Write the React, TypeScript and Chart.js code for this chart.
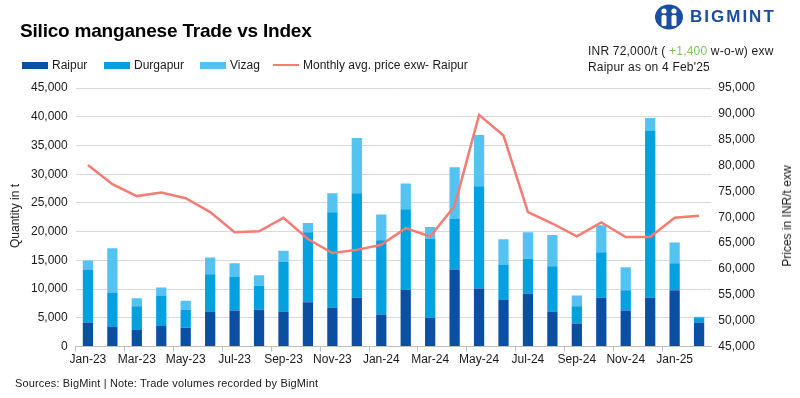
import React, { useEffect, useRef } from "react";
import { Chart, registerables } from "chart.js";

Chart.register(...registerables);

const months = [
  "Jan-23", "Feb-23", "Mar-23", "Apr-23", "May-23", "Jun-23", "Jul-23", "Aug-23", "Sep-23", "Oct-23", "Nov-23", "Dec-23",
  "Jan-24", "Feb-24", "Mar-24", "Apr-24", "May-24", "Jun-24", "Jul-24", "Aug-24", "Sep-24", "Oct-24", "Nov-24", "Dec-24",
  "Jan-25", "Feb-25",
];

const raipur = [4200, 3500, 2900, 3600, 3300, 6100, 6300, 6400, 6100, 7700, 6800, 8500, 5600, 9900, 5000, 13400, 10100, 8200, 9200, 6100, 4000, 8500, 6300, 8500, 9800, 4200];
const durgapur = [9200, 5900, 4100, 5300, 3100, 6500, 5900, 4200, 8600, 12200, 16600, 18200, 12900, 14000, 13800, 8900, 17800, 6100, 6100, 7900, 3000, 7900, 3500, 29000, 4700, 850];
const vizag = [1600, 7700, 1400, 1400, 1600, 2900, 2300, 1800, 2000, 1600, 3300, 9600, 4500, 4500, 2000, 8900, 8900, 4400, 4600, 5400, 1900, 4700, 4000, 2300, 3600, 150];
const priceRaipur = [80100, 76400, 74100, 74800, 73700, 71000, 67100, 67300, 69900, 65800, 63100, 63700, 64700, 67900, 66300, 72200, 89800, 85800, 71000, 68800, 66300, 69000, 66200, 66200, 69900, 70300];

const C_RAIPUR = "#0b4fa2";
const C_DURG = "#03a1e0";
const C_VIZAG = "#55c3f1";
const C_LINE = "#f47c72";
const FONT = "'Liberation Sans', Arial, sans-serif";

const fmt = (v: number) => v.toLocaleString("en-US");

export default function App() {
  const ref = useRef<HTMLCanvasElement | null>(null);

  useEffect(() => {
    if (!ref.current) return;
    const chart = new Chart(ref.current, {
      type: "bar",
      data: {
        labels: months,
        datasets: [
          { type: "line", label: "Monthly avg. price exw- Raipur", data: priceRaipur, yAxisID: "y1", borderColor: C_LINE, backgroundColor: C_LINE, borderWidth: 2.5, pointRadius: 0, tension: 0, order: 0 },
          { type: "bar", label: "Raipur", data: raipur, backgroundColor: C_RAIPUR, yAxisID: "y", stack: "s", order: 1, barPercentage: 0.42, categoryPercentage: 1 },
          { type: "bar", label: "Durgapur", data: durgapur, backgroundColor: C_DURG, yAxisID: "y", stack: "s", order: 1, barPercentage: 0.42, categoryPercentage: 1 },
          { type: "bar", label: "Vizag", data: vizag, backgroundColor: C_VIZAG, yAxisID: "y", stack: "s", order: 1, barPercentage: 0.42, categoryPercentage: 1 },
        ],
      } as any,
      options: {
        responsive: false,
        animation: false,
        devicePixelRatio: 1,
        layout: { padding: { top: 88, bottom: 30, left: 23, right: 38 } },
        plugins: { legend: { display: false }, tooltip: { enabled: false }, title: { display: false } },
        scales: {
          x: {
            stacked: true,
            offset: true,
            grid: {
              offset: true,
              drawOnChartArea: false,
              drawTicks: true,
              tickLength: 5,
              color: (ctx: any) => (ctx.index % 2 === 0 ? "#bfbfbf" : "rgba(0,0,0,0)"),
            },
            border: { display: true, color: "#bfbfbf", width: 1 },
            ticks: {
              autoSkip: false,
              maxRotation: 0,
              minRotation: 0,
              padding: 1,
              color: "#1a1a1a",
              font: { family: FONT, size: 12 },
              callback: (_v: any, i: number) => (i % 2 === 0 ? months[i] : ""),
            },
          },
          y: {
            type: "linear",
            position: "left",
            stacked: true,
            min: 0,
            max: 45000,
            ticks: { stepSize: 5000, padding: 8, color: "#1a1a1a", font: { family: FONT, size: 12 }, callback: (v: any) => fmt(Number(v)) },
            grid: { color: "#d9d9d9", drawTicks: false, lineWidth: 1 },
            border: { display: false },
            title: { display: false },
          },
          y1: {
            type: "linear",
            position: "right",
            stacked: false,
            min: 45000,
            max: 95000,
            ticks: { stepSize: 5000, padding: 7, color: "#1a1a1a", font: { family: FONT, size: 12 }, callback: (v: any) => fmt(Number(v)) },
            grid: { display: false, drawTicks: false },
            border: { display: false },
            title: { display: false },
          },
        },
      } as any,
    });
    return () => chart.destroy();
  }, []);

  const legendItem = (color: string, label: string, left: number, isLine = false) => (
    <div style={{ position: "absolute", left, top: 58, height: 14, display: "flex", alignItems: "center" }}>
      <div style={{ width: 26, height: isLine ? 2.5 : 7, background: color, marginRight: 4 }} />
      <span style={{ fontSize: 12, color: "#1a1a1a", whiteSpace: "nowrap" }}>{label}</span>
    </div>
  );

  const vTitle = (text: string, x: number) => (
    <div
      style={{
        position: "absolute",
        left: x,
        top: 216,
        transform: "translate(-50%, -50%) rotate(-90deg)",
        fontSize: 12,
        color: "#1a1a1a",
        whiteSpace: "nowrap",
      }}
    >
      {text}
    </div>
  );

  return (
    <div style={{ position: "fixed", left: 0, top: 0, width: 800, height: 398, background: "#fff", fontFamily: FONT, overflow: "hidden" }}>
      <canvas ref={ref} width={800} height={398} style={{ position: "absolute", left: 0, top: 0, width: 800, height: 398 }} />
      <div style={{ position: "absolute", left: 20, top: 20, fontSize: 19, fontWeight: "bold", color: "#000", letterSpacing: "-0.2px", whiteSpace: "nowrap" }}>
        Silico manganese Trade vs Index
      </div>
      {legendItem(C_RAIPUR, "Raipur", 22)}
      {legendItem(C_DURG, "Durgapur", 104)}
      {legendItem(C_VIZAG, "Vizag", 200)}
      {legendItem(C_LINE, "Monthly avg. price exw- Raipur", 273, true)}
      <div style={{ position: "absolute", left: 588, top: 43, fontSize: 12, lineHeight: "16px", color: "#1a1a1a", whiteSpace: "nowrap", letterSpacing: "0.2px" }}>
        <div>
          INR 72,000/t ( <span style={{ color: "#7cc75c" }}>+1,400</span> w-o-w) exw
        </div>
        <div>Raipur as on 4 Feb'25</div>
      </div>
      {vTitle("Quantity in t", 15)}
      {vTitle("Prices in INR/t exw", 787)}
      <div style={{ position: "absolute", left: 654, top: 4, display: "flex", alignItems: "center" }}>
        <svg width="30" height="26" viewBox="0 0 30 26">
          <ellipse cx="15" cy="13" rx="14" ry="12.5" fill="#1a4fa0" />
          <circle cx="10" cy="7" r="2.6" fill="#fff" />
          <circle cx="20" cy="7" r="2.6" fill="#fff" />
          <rect x="7.5" y="11" width="5" height="11" rx="1.5" fill="#fff" />
          <rect x="17.5" y="11" width="5" height="11" rx="1.5" fill="#fff" />
          <rect x="13.3" y="9" width="3.4" height="14" fill="#1a4fa0" />
        </svg>
        <span style={{ marginLeft: 6, fontSize: 17, fontWeight: "bold", color: "#1a4fa0", letterSpacing: "2px" }}>BIGMINT</span>
      </div>
      <div style={{ position: "absolute", left: 15, top: 377, fontSize: 11, color: "#1a1a1a", whiteSpace: "nowrap", letterSpacing: "0.15px" }}>
        Sources: BigMint | Note: Trade volumes recorded by BigMint
      </div>
    </div>
  );
}
